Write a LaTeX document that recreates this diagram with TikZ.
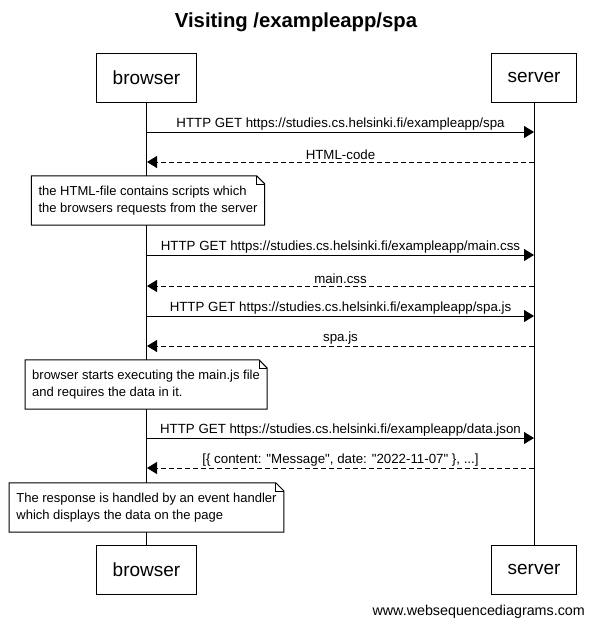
\documentclass[tikz,border=0pt]{standalone}
\usepackage{fontspec}
\setmainfont{Liberation Sans}
\usetikzlibrary{arrows.meta, positioning}
\tikzset{
  actor/.style={draw, fill=white, line width=1pt, minimum height=49pt,
                inner xsep=16pt, font=\fontsize{19}{23}\selectfont},
  life/.style={line width=1pt},
  msg/.style={-{Triangle[length=10pt,width=12pt]}, line width=1pt},
  reply/.style={msg, dash pattern=on 5pt off 3pt},
  lbl/.style={above, inner sep=1.5pt, font=\fontsize{13.3}{16}\selectfont},
  note/.style={fill=white, align=left, minimum height=49pt, inner xsep=7pt,
               font=\fontsize{13}{16.5}\selectfont},
}
% folded-corner outline round a note node
\newcommand{\dogear}[1]{%
  \draw[line width=1pt] (#1.north west) -- ([xshift=-8pt]#1.north east)
    -- ([yshift=-8pt]#1.north east) -- (#1.south east) -- (#1.south west) -- cycle;
  \draw[line width=0.6pt] ([xshift=-8pt]#1.north east) |- ([yshift=-8pt]#1.north east);}

\begin{document}
\begin{tikzpicture}[x=1pt, y=-1pt]
  \useasboundingbox (0,0) rectangle (592,629);
  \node[font=\bfseries\fontsize{20.3}{24}\selectfont] (title) at (296,22) {Visiting /exampleapp/spa};
  % participants
  \node[actor] (bt) at (146.5,77.5) {browser};
  \node[actor] (st) at (534,77.5)   {server};
  \node[actor] (bb) at (146.5,569.5) {browser};
  \node[actor] (sb) at (534,569.5)   {server};
  \draw[life] (bt) -- (bb);
  \draw[life] (st) -- (sb);
  % message rows
  \foreach \n/\y in {1/132, 2/162, 3/255, 4/286, 5/316, 6/346, 7/438, 8/468} {
    \coordinate (b\n) at (147,\y);
    \coordinate (s\n) at (534,\y);
  }
  \draw[msg]   (b1) -- node[lbl] {HTTP GET https://studies.cs.helsinki.fi/exampleapp/spa} (s1);
  \draw[reply] (s2) -- node[lbl] {HTML-code} (b2);
  \node[note] (n1) at (148,200.5)
    {the HTML-file contains scripts which\\the browsers requests from the server};
  \dogear{n1}
  \draw[msg]   (b3) -- node[lbl] {HTTP GET https://studies.cs.helsinki.fi/exampleapp/main.css} (s3);
  \draw[reply] (s4) -- node[lbl] {main.css} (b4);
  \draw[msg]   (b5) -- node[lbl] {HTTP GET https://studies.cs.helsinki.fi/exampleapp/spa.js} (s5);
  \draw[reply] (s6) -- node[lbl] {spa.js} (b6);
  \node[note] (n2) at (146,384.5)
    {browser starts executing the main.js file\\and requires the data in it.};
  \dogear{n2}
  \draw[msg]   (b7) -- node[lbl] {HTTP GET https://studies.cs.helsinki.fi/exampleapp/data.json} (s7);
  \draw[reply] (s8) -- node[lbl]
    {[\{ content: \textquotedbl Message\textquotedbl, date: \textquotedbl 2022-11-07\textquotedbl{} \}, ...]} (b8);
  \node[note] (n3) at (146.5,507.5)
    {The response is handled by an event handler\\which displays the data on the page};
  \dogear{n3}
  \node[anchor=east, inner sep=0pt, font=\fontsize{14.3}{17}\selectfont] (wsd) at (585,612)
    {www.websequencediagrams.com};
\end{tikzpicture}
\end{document}
